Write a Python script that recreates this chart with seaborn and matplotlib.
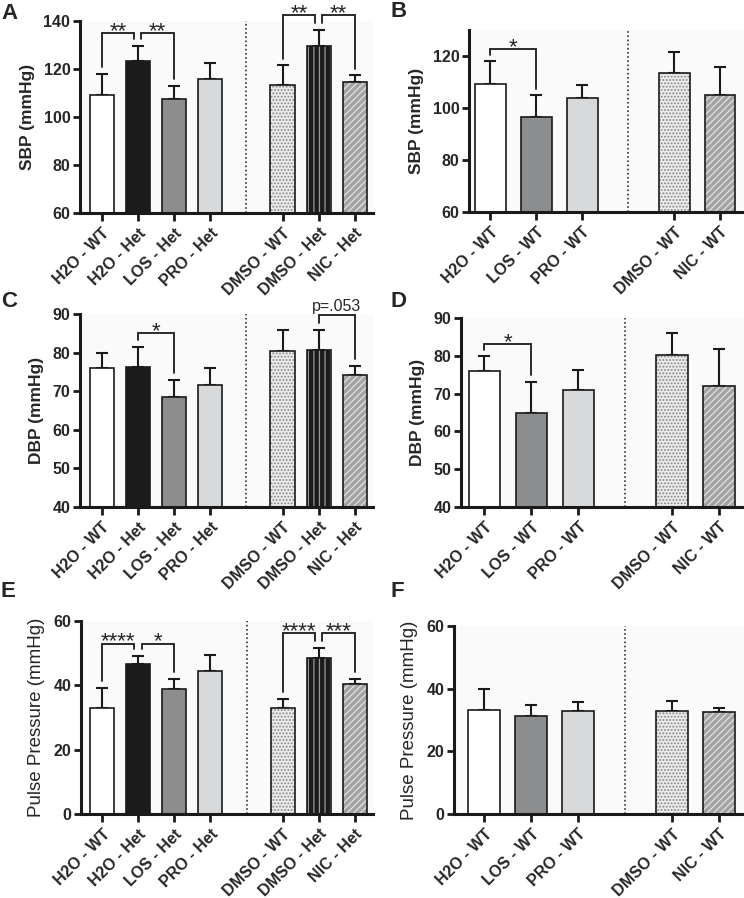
import numpy as np
import pandas as pd
import matplotlib
matplotlib.use("Agg")
import matplotlib.pyplot as plt
import matplotlib.colors as mcolors
import seaborn as sns

# ---------------- data ----------------
het_groups = ["H2O - WT", "H2O - Het", "LOS - Het", "PRO - Het", "DMSO - WT", "DMSO - Het", "NIC - Het"]
wt_groups = ["H2O - WT", "LOS - WT", "PRO - WT", "DMSO - WT", "NIC - WT"]

sbp_het_mean = [109.1, 123.3, 107.5, 115.8, 113.4, 129.6, 114.7]
sbp_het_err = [8.8, 6.2, 5.5, 6.8, 8.1, 6.7, 2.6]
sbp_wt_mean = [109.1, 96.4, 103.7, 113.6, 104.9]
sbp_wt_err = [9.0, 8.5, 5.3, 8.1, 10.8]

dbp_het_mean = [76.1, 76.3, 68.6, 71.5, 80.4, 80.7, 74.2]
dbp_het_err = [3.7, 5.1, 4.3, 4.4, 5.5, 5.2, 2.3]
dbp_wt_mean = [76.1, 65.0, 70.9, 80.3, 72.1]
dbp_wt_err = [3.8, 8.1, 5.4, 5.6, 9.7]

pp_het_mean = [33.0, 46.7, 38.9, 44.4, 32.9, 48.6, 40.3]
pp_het_err = [6.3, 2.4, 3.1, 5.0, 3.0, 3.0, 1.8]
pp_wt_mean = [33.2, 31.4, 32.9, 33.0, 32.7]
pp_wt_err = [6.6, 3.4, 3.0, 3.1, 1.2]

# significance brackets: (group1, group2, bracket height, label)
sbp_het_sig = [("H2O - WT", "H2O - Het", 135.0, "**"), ("H2O - Het", "LOS - Het", 135.0, "**"),
               ("DMSO - WT", "DMSO - Het", 142.4, "**"), ("DMSO - Het", "NIC - Het", 142.4, "**")]
sbp_wt_sig = [("H2O - WT", "LOS - WT", 122.6, "*")]
dbp_het_sig = [("H2O - Het", "LOS - Het", 85.2, "*"), ("DMSO - Het", "NIC - Het", 89.7, "p=.053")]
dbp_wt_sig = [("H2O - WT", "LOS - WT", 83.2, "*")]
pp_het_sig = [("H2O - WT", "H2O - Het", 53.0, "****"), ("H2O - Het", "LOS - Het", 53.0, "*"),
              ("DMSO - WT", "DMSO - Het", 56.3, "****"), ("DMSO - Het", "NIC - Het", 56.3, "***")]
pp_wt_sig = []

# ---------------- style ----------------
sns.set_style("ticks")
plt.rcParams["font.family"] = ["Liberation Sans", "DejaVu Sans"]
plt.rcParams["hatch.linewidth"] = 0.9

styles = {
    "H2O - WT": dict(fc="white"),
    "H2O - Het": dict(fc="#1b1b1b"),
    "LOS - Het": dict(fc="#8c8d8f"),
    "LOS - WT": dict(fc="#8c8d8f"),
    "PRO - Het": dict(fc="#d8d9da"),
    "PRO - WT": dict(fc="#d8d9da"),
    "DMSO - WT": dict(fc="#ececec", hatch=".....", hc="#858585"),
    "DMSO - Het": dict(fc="#1b1b1b", hatch="|||", hc="#9a9a9a"),
    "NIC - Het": dict(fc="#a3a3a3", hatch="/////", hc="#e2e2e2"),
    "NIC - WT": dict(fc="#a3a3a3", hatch="/////", hc="#e2e2e2"),
}

W, H = 744, 898
fig = plt.figure(figsize=(W / 100, H / 100), dpi=100)


def ax_at(l, r, t, b):
    return fig.add_axes([l / W, 1 - b / H, (r - l) / W, (b - t) / H])


def panel(ax, groups, means, errs, ylim, yticks, ylabel, sig, xlim, bold_label=True, ylabel_size=12.5):
    gap = " "
    split = 4 if len(groups) == 7 else 3
    order = groups[:split] + [gap] + groups[split:]
    df = pd.DataFrame({"group": groups, "value": means})
    ax.set_facecolor("#fafafa")
    sns.barplot(data=df, x="group", y="value", hue="group", order=order,
                palette={g: styles[g]["fc"] for g in groups}, errorbar=None,
                width=0.67, legend=False, ax=ax, saturation=1,
                edgecolor="#1a1a1a", linewidth=1.2, zorder=2)
    for p in ax.patches:
        xc = p.get_x() + p.get_width() / 2
        g = order[int(round(xc))]
        st = styles[g]
        p.set_facecolor(st["fc"])
        if st.get("hatch"):
            p.set_hatch(st["hatch"])
            p._hatch_color = mcolors.to_rgba(st["hc"])
    pos = {g: order.index(g) for g in groups}
    xs = [pos[g] for g in groups]
    ax.errorbar(xs, means, yerr=[np.zeros(len(errs)), errs], fmt="none", ecolor="#1a1a1a",
                elinewidth=1.5, capsize=4.5, capthick=1.5, zorder=1)
    ax.set_ylim(*ylim)
    ax.set_xlim(*xlim)
    ax.set_yticks(yticks)
    ax.set_yticklabels([str(v) for v in yticks], fontsize=11.5, fontweight="bold")
    ax.set_xticks(xs)
    ax.set_xticklabels(groups, rotation=45, ha="right", rotation_mode="anchor",
                       fontsize=11.5, fontweight="bold")
    ax.set_xlabel("")
    ax.set_ylabel(ylabel, fontsize=ylabel_size, fontweight="bold" if bold_label else "normal", labelpad=6)
    for s in ["top", "right"]:
        ax.spines[s].set_visible(False)
    for s in ["left", "bottom"]:
        ax.spines[s].set_linewidth(2.2)
        ax.spines[s].set_color("#1a1a1a")
    ax.tick_params(axis="y", width=2.0, length=5, color="#1a1a1a", pad=2)
    ax.tick_params(axis="x", width=2.0, length=6, color="#1a1a1a", pad=3)
    # dotted separator
    ax.axvline(order.index(gap), color="#333333", lw=1.2, ls=(0, (1, 1.5)), zorder=1)
    # brackets
    err_top = {g: m + e for g, m, e in zip(groups, means, errs)}
    span = ylim[1] - ylim[0]
    leg_gap = 0.035 * span
    count = {}
    for g1, g2, _, _ in sig:
        count[g1] = count.get(g1, 0) + 1
        count[g2] = count.get(g2, 0) + 1
    for g1, g2, yb, txt in sig:
        x1 = pos[g1] + (0.1 if count[g1] > 1 else 0)
        x2 = pos[g2] - (0.1 if count[g2] > 1 else 0)
        y1 = err_top[g1] + leg_gap
        y2 = err_top[g2] + leg_gap
        ax.plot([x1, x1, x2, x2], [y1, yb, yb, y2], color="#1a1a1a", lw=1.3,
                clip_on=False, solid_joinstyle="miter", zorder=4)
        if txt.startswith("p"):
            ax.annotate(txt, xy=((x1 + x2) / 2, yb), xytext=(0, 3), textcoords="offset points",
                        ha="center", va="baseline", fontsize=11.5, annotation_clip=False)
        else:
            ax.annotate(txt, xy=((x1 + x2) / 2, yb), xytext=(0, -3), textcoords="offset points",
                        ha="center", va="baseline", fontsize=16, annotation_clip=False)


axA = ax_at(80, 373, 21, 213)
panel(axA, het_groups, sbp_het_mean, sbp_het_err, (60, 140), [60, 80, 100, 120, 140],
      "SBP (mmHg)", sbp_het_sig, (-0.6, 7.5))
axB = ax_at(469, 744, 30, 212)
panel(axB, wt_groups, sbp_wt_mean, sbp_wt_err, (60, 130), [60, 80, 100, 120],
      "SBP (mmHg)", sbp_wt_sig, (-0.46, 5.52))
axC = ax_at(80, 373, 314, 507)
panel(axC, het_groups, dbp_het_mean, dbp_het_err, (40, 90), [40, 50, 60, 70, 80, 90],
      "DBP (mmHg)", dbp_het_sig, (-0.6, 7.5))
axD = ax_at(461, 744, 318, 507)
panel(axD, wt_groups, dbp_wt_mean, dbp_wt_err, (40, 90), [40, 50, 60, 70, 80, 90],
      "DBP (mmHg)", dbp_wt_sig, (-0.5, 5.53))
axE = ax_at(81, 373, 621, 814)
panel(axE, het_groups, pp_het_mean, pp_het_err, (0, 60), [0, 20, 40, 60],
      "Pulse Pressure (mmHg)", pp_het_sig, (-0.58, 7.5), bold_label=False, ylabel_size=13.5)
axF = ax_at(454, 744, 626, 814)
panel(axF, wt_groups, pp_wt_mean, pp_wt_err, (0, 60), [0, 20, 40, 60],
      "Pulse Pressure (mmHg)", pp_wt_sig, (-0.64, 5.53), bold_label=False, ylabel_size=13.5)

for letter, x, y in [("A", 1, 3), ("B", 391, 1), ("C", 1, 291), ("D", 391, 291), ("E", 1, 581), ("F", 391, 581)]:
    fig.text(x / W, 1 - y / H, letter, fontsize=16, fontweight="bold", ha="left", va="top")

fig.savefig("out.png", dpi=100)
